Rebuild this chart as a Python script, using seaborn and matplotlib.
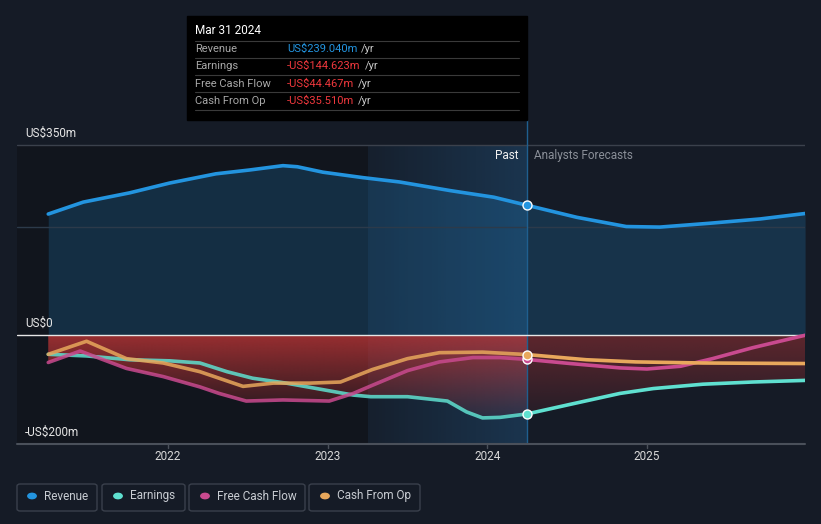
import numpy as np
import pandas as pd
import matplotlib
matplotlib.use("Agg")
import matplotlib.pyplot as plt
import seaborn as sns
from matplotlib.patches import Rectangle, FancyBboxPatch, Circle

# ---------------- data (US$ m, decimal years) ----------------
rev_x = [2021.25, 2021.47, 2021.76, 2022.01, 2022.30, 2022.51, 2022.72, 2022.81, 2022.97,
         2023.22, 2023.45, 2023.77, 2024.04, 2024.25, 2024.56, 2024.87, 2025.08, 2025.39,
         2025.71, 2025.99]
rev_y = [223, 245, 262, 280, 297, 304, 312, 310, 300,
         290, 282, 266, 254, 239.04, 217, 200, 199, 206,
         214, 224]

earn_x = [2021.25, 2021.49, 2021.76, 2022.01, 2022.20, 2022.37, 2022.53, 2022.74, 2022.95,
          2023.16, 2023.27, 2023.50, 2023.75, 2023.87, 2023.97, 2024.08, 2024.25, 2024.52,
          2024.83, 2025.04, 2025.35, 2025.66, 2025.99]
earn_y = [-35, -38, -45, -47, -51, -67, -79, -88, -99,
          -110, -113, -113, -121, -141, -152, -151, -144.623, -127,
          -107, -98, -90, -86, -83]

fcf_x = [2021.25, 2021.45, 2021.74, 2021.97, 2022.20, 2022.32, 2022.49, 2022.72, 2023.01,
         2023.16, 2023.28, 2023.50, 2023.70, 2023.91, 2024.08, 2024.25, 2024.52, 2024.83,
         2025.00, 2025.21, 2025.41, 2025.66, 2025.99]
fcf_y = [-50, -29, -61, -76, -95, -107, -121, -119, -121,
         -107, -92, -65, -49, -41, -41, -44.467, -52, -60,
         -62, -57, -43, -23, 0]

cfo_x = [2021.25, 2021.49, 2021.74, 2021.97, 2022.20, 2022.47, 2022.66, 2022.89, 2023.08,
         2023.28, 2023.50, 2023.70, 2023.97, 2024.25, 2024.62, 2024.93, 2025.35, 2025.99]
cfo_y = [-35, -11, -43, -51, -67, -94, -88, -88, -86,
         -63, -43, -32, -31, -35.51, -45, -49, -51, -52]

series_names = ["Revenue", "Earnings", "Free Cash Flow", "Cash From Op"]
series_colors = ["#2394df", "#5fe0d0", "#c94a8f", "#e8a85c"]
y_tick_values = [350, 0, -200]
y_tick_labels = ["US$350m", "US$0", "-US$200m"]
x_tick_values = [2022, 2023, 2024, 2025]
tooltip_date = "Mar 31 2024"
tooltip_values = ["US$239.040m", "-US$144.623m", "-US$44.467m", "-US$35.510m"]
now_x = 2024.25
highlight_start = 2023.25

# ---------------- figure ----------------
W, H = 821, 524
BG = "#151b26"
sns.set_theme(style="dark")
plt.rcParams["font.family"] = ["Roboto", "DejaVu Sans"]
fig = plt.figure(figsize=(W / 100, H / 100), dpi=100, facecolor=BG)

# axes pixel geometry
ax_l, ax_r, ax_t, ax_b = 17, 805, 120, 444
ax = fig.add_axes([ax_l / W, 1 - ax_b / H, (ax_r - ax_l) / W, (ax_b - ax_t) / H])
ax.set_facecolor(BG)
px_per_m = (444 - 145) / 550.0
y_top = 350 + (145 - ax_t) / px_per_m
x_left = 2022 + (ax_l - 168) / 159.67
x_right = 2022 + (ax_r - 168) / 159.67

# background regions (below the top grid line)
ax.add_patch(Rectangle((x_left, -200), highlight_start - x_left, 550,
                       color="#11151d", zorder=0, lw=0))
band = np.zeros((1, 64, 4))
band[..., :3] = matplotlib.colors.to_rgb("#2a7fc4")
band[..., 3] = np.linspace(0.05, 0.26, 64)
ax.imshow(band, extent=[highlight_start, now_x, -200, 350], aspect="auto",
          zorder=0.5, interpolation="bilinear")

# revenue fill
ax.fill_between(rev_x, rev_y, 0, color="#2394df", alpha=0.2, lw=0, zorder=1)

# red gradient fill down to the lowest negative series
grid = np.linspace(2021.25, 2025.99, 600)
low = np.minimum.reduce([np.interp(grid, earn_x, earn_y),
                         np.interp(grid, fcf_x, fcf_y),
                         np.interp(grid, cfo_x, cfo_y)])
low = np.minimum(low, 0)
poly = ax.fill_between(grid, low, 0, color="none", lw=0)
for x0, x1, a0 in [(2021.25, now_x, 0.72), (now_x, 2025.99, 0.40)]:
    g = np.zeros((128, 1, 4))
    g[..., :3] = matplotlib.colors.to_rgb("#cc3838")
    g[..., 3] = np.linspace(a0, 0.06, 128)[:, None]
    im = ax.imshow(g, extent=[x0, x1, -160, 0], aspect="auto", origin="upper",
                   zorder=1.5, interpolation="bilinear")
    im.set_clip_path(poly.get_paths()[0], transform=ax.transData)

# grid lines
ax.plot([x_left, x_right], [350, 350], color="#3b414c", lw=1, zorder=2)
ax.plot([x_left, x_right], [200, 200], color="#2c3a4a", lw=1, zorder=2)
ax.plot([x_left, x_right], [0, 0], color="#e6e6e6", lw=1, zorder=3)
ax.plot([x_left, x_right], [-200, -200], color="#4a505a", lw=1.5, zorder=3, clip_on=False)
ax.plot([now_x, now_x], [-200, y_top], color="#1f5f8f", lw=1, zorder=2)

# lines via seaborn
data = {"Revenue": (rev_x, rev_y), "Earnings": (earn_x, earn_y),
        "Free Cash Flow": (fcf_x, fcf_y), "Cash From Op": (cfo_x, cfo_y)}
for name, col in zip(series_names, series_colors):
    xs, ys = data[name]
    df = pd.DataFrame({"x": xs, "y": ys})
    past = df[df.x <= now_x]
    fut = df[df.x >= now_x]
    sns.lineplot(data=past, x="x", y="y", ax=ax, color=col, lw=2.6,
                 alpha=0.85 if name != "Revenue" else 1.0, zorder=4, sort=True,
                 solid_joinstyle="round", solid_capstyle="round")
    sns.lineplot(data=fut, x="x", y="y", ax=ax, color=col, lw=2.6, zorder=4, sort=True,
                 solid_joinstyle="round", solid_capstyle="round")

# markers at "now"
for name, col in zip(series_names, series_colors):
    xs, ys = data[name]
    i = list(xs).index(now_x)
    ax.scatter([xs[i]], [ys[i]], s=42, color=col, edgecolor="white", lw=1, zorder=6)

ax.set_xlim(x_left, x_right)
ax.set_ylim(-200, y_top)
ax.set_xticks([])
ax.set_yticks([])
ax.set_xlabel("")
ax.set_ylabel("")
for s in ax.spines.values():
    s.set_visible(False)
ax.grid(False)

def fx(px):
    return px / W

def fy(py):
    return 1 - py / H

# tick marks and labels
for yr in x_tick_values:
    xp = 168 + (yr - 2022) * 159.67
    fig.add_artist(plt.Line2D([fx(xp), fx(xp)], [fy(444), fy(448)], color="#4a505a", lw=1))
    fig.text(fx(xp), fy(457), str(yr), color="#d8d8d8", fontsize=8.5, ha="center", va="center")

for v, lab in zip(y_tick_values, y_tick_labels):
    yp = 444 - (v + 200) * px_per_m
    fig.text(fx(25), fy(yp - 12), lab, color="#e6e6e6", fontsize=8.5, ha="left", va="center")

fig.text(fx(518), fy(156), "Past", color="#f0f0f0", fontsize=8.5, ha="right", va="center")
fig.text(fx(534), fy(156), "Analysts Forecasts", color="#8a8f98", fontsize=8.5, ha="left", va="center")

# tooltip
fig.add_artist(Rectangle((fx(187), fy(120)), fx(527) - fx(187), fy(16) - fy(120),
                         transform=fig.transFigure, color="#000000", zorder=10))
fig.text(fx(195), fy(31), tooltip_date, color="#ffffff", fontsize=8.5, ha="left",
         va="center", zorder=11)
rows_y = [49, 66, 84, 101]
for yy in [41, 58, 75, 92, 110]:
    fig.add_artist(plt.Line2D([fx(195), fx(519)], [fy(yy), fy(yy)], color="#3a3a3a",
                              lw=0.8, zorder=11))
for name, val, yy in zip(series_names, tooltip_values, rows_y):
    vcol = "#2394df" if not val.startswith("-") else "#f0383d"
    fig.text(fx(195), fy(yy), name, color="#a8a8a8", fontsize=8, ha="left", va="center", zorder=11)
    t = fig.text(fx(287), fy(yy), val, color=vcol, fontsize=8, ha="left", va="center", zorder=11)
    fig.canvas.draw()
    bb = t.get_window_extent()
    fig.text(bb.x1 / W + 4 / W, fy(yy), "/yr", color="#c8c8c8", fontsize=8, ha="left",
             va="center", zorder=11)

# legend
boxes = [(17, 97), (102, 185), (189, 305), (309, 420)]
dots = [32, 118, 205, 325]
texts = [44, 130, 217, 337]
for (x0, x1), dx, tx, name, col in zip(boxes, dots, texts, series_names, series_colors):
    fig.add_artist(FancyBboxPatch((fx(x0), fy(511)), fx(x1) - fx(x0), fy(484) - fy(511),
                                  boxstyle="round,pad=0,rounding_size=0.004",
                                  transform=fig.transFigure, facecolor="none",
                                  edgecolor="#3a404c", lw=1))
    fig.add_artist(Circle((fx(dx), fy(496)), 4.2 / W, transform=fig.transFigure,
                          color=col))
    fig.text(fx(tx), fy(496), name, color="#c8ccd2", fontsize=8.5, ha="left", va="center")

fig.savefig("out.png", dpi=100, facecolor=BG)
